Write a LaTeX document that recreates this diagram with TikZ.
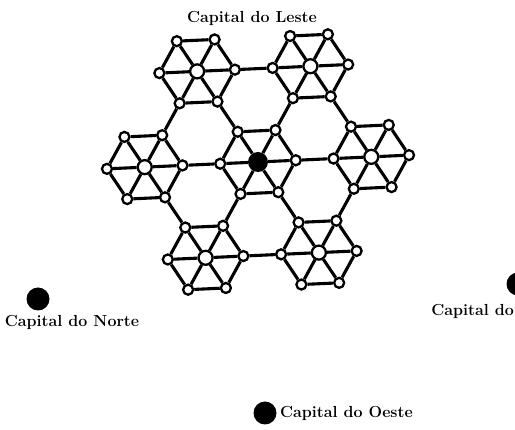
\documentclass[tikz,border=0pt]{standalone}
\pgfdeclarelayer{bg}
\pgfsetlayers{bg,main}
\begin{document}
\begin{tikzpicture}[x=1pt,y=1pt,
  vtx/.style={circle,draw,fill=white,line width=2.3pt,inner sep=0pt,minimum size=10pt},
  hub/.style={circle,draw,fill=white,line width=2.3pt,inner sep=0pt,minimum size=14pt},
  core/.style={circle,fill=black,inner sep=0pt,minimum size=20pt},
  link/.style={line width=3.1pt},
  capdot/.style={circle,fill=black,inner sep=0pt,minimum size=23pt},
  caplabel/.style={font=\fontsize{16}{18}\selectfont\bfseries,inner sep=0pt}]
\useasboundingbox (0,0) rectangle (515,-430);
\clip (0,0) rectangle (515,-430);
\begin{scope}[shift={(258,-162)},rotate=2.6,yscale=0.95]
  \node[core] (c0) at (0,0) {};
  \foreach \k in {1,...,6}{
    \node[hub] (c\k) at ({60*(\k-1)}:113.4) {};
  }
  \foreach \k in {0,...,6}{
    \pgfmathsetmacro{\rk}{ifthenelse(\k==0,0,113.4)}
    \pgfmathsetmacro{\ak}{60*(\k-1)}
    \foreach \j in {0,...,5}{
      \node[vtx] (c\k-\j) at ({\rk*cos(\ak)+37.8*cos(60*\j)},{\rk*sin(\ak)+37.8*sin(60*\j)}) {};
    }
  }
\end{scope}
\begin{pgfonlayer}{bg}
  \foreach \k in {0,...,6}{
    \foreach \j in {0,...,5}{
      \pgfmathtruncatemacro{\jn}{mod(\j+1,6)}
      \draw[link] (c\k-\j) -- (c\k-\jn);
      \draw[link] (c\k) -- (c\k-\j);
    }
  }
  \foreach \j in {0,...,5}{
    \pgfmathtruncatemacro{\kk}{\j+1}
    \pgfmathtruncatemacro{\jj}{mod(\j+3,6)}
    \draw[link] (c0-\j) -- (c\kk-\jj);
  }
  \foreach \k in {1,...,6}{
    \pgfmathtruncatemacro{\ja}{mod(\k+1,6)}
    \pgfmathtruncatemacro{\kb}{mod(\k,6)+1}
    \pgfmathtruncatemacro{\jb}{mod(\k+4,6)}
    \draw[link] (c\k-\ja) -- (c\kb-\jb);
  }
\end{pgfonlayer}
\node[caplabel] (leste) at (252,-18) {Capital do Leste};
\node[capdot] (norte) at (38,-299) {};
\node[caplabel] (nortelbl) at (72,-322) {Capital do Norte};
\node[capdot] (sul) at (518,-284) {};
\node[caplabel,anchor=east] (sullbl) at (514,-311) {Capital do};
\node[capdot] (oeste) at (265,-413) {};
\node[caplabel,anchor=west] (oestelbl) at (280,-413) {Capital do Oeste};
\end{tikzpicture}
\end{document}
